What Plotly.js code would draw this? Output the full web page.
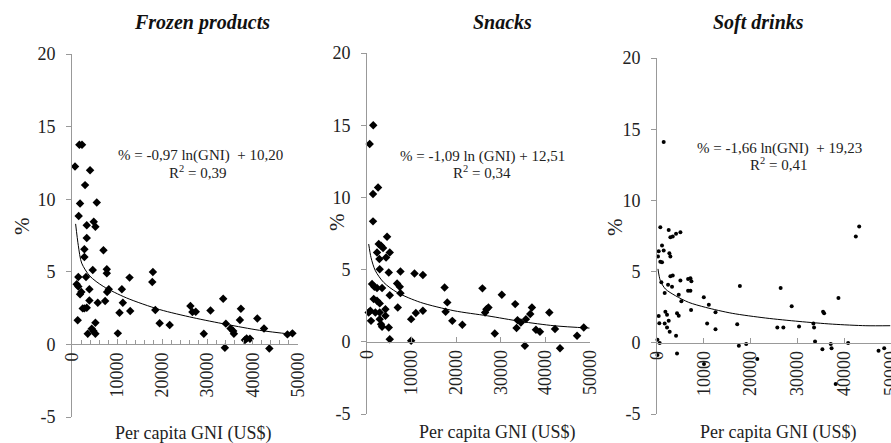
<!DOCTYPE html>
<html>
<head>
<meta charset="utf-8">
<script src="https://cdn.plot.ly/plotly-3.0.1.min.js"></script>
<style>html,body{margin:0;padding:0;background:#fff;}#chart{width:891px;height:443px;}</style>
</head>
<body>
<div id="chart"></div>
<script>
// ---------- data ----------
const panelTitles = ["Frozen products", "Snacks", "Soft drinks"];
const equations = ["% = -0,97 ln(GNI)  + 10,20", "% = -1,09 ln (GNI) + 12,51", "% = -1,66 ln(GNI)  + 19,23"];
const rSquared = ["R<sup>2</sup> = 0,39", "R<sup>2</sup> = 0,34", "R<sup>2</sup> = 0,41"];
const xTitle = "Per capita GNI (US$)";
const yTitle = "%";
const xTickVals = [0, 10000, 20000, 30000, 40000, 50000];
const yTickVals = [-5, 0, 5, 10, 15, 20];

const frozenX = [670,1630,2220,4000,2890,1780,5480,1480,4810,5180,3260,3260,2740,2740,6960,4590,7700,7700,17900,17760,12730,1400,3100,1040,1400,2070,3850,7770,8140,11030,1780,3850,5700,7330,11250,2370,2740,3260,10510,12880,18430,26200,26640,27380,30640,33450,37370,37150,41000,1260,5180,19390,21610,34040,35080,35670,35820,42480,4370,4740,5180,3480,10140,29160,38260,38630,39370,47660,48770,33820,43660];
const frozenY = [12.25,13.75,13.75,12.0,10.97,9.7,9.77,8.85,8.44,8.1,8.2,7.33,6.55,6.02,6.48,5.13,5.17,4.9,4.99,4.30,4.6,4.64,4.64,4.14,3.98,3.61,3.8,3.61,3.8,3.8,3.45,3.03,2.87,2.99,2.87,2.48,2.48,2.53,2.18,2.30,2.37,2.64,2.23,2.25,2.34,3.15,2.46,1.68,1.79,1.66,1.49,1.45,1.33,1.43,1.10,0.92,0.74,1.10,1.08,0.92,0.74,0.74,0.76,0.74,0.30,0.41,0.39,0.69,0.76,-0.23,-0.28];
const frozenTrendX = [800,1400,2140,3970,6900,12070,19400,26800,34150,41500,48850];
const frozenTrendY = [8.3,6.8,5.6,4.7,4.0,3.2,2.4,1.84,1.38,0.97,0.69];

const snacksX = [600,1400,1350,2480,1350,4500,2630,3150,3600,2250,5100,2780,4280,2850,4880,7500,10650,12530,1130,1650,2250,3380,6750,7350,7500,17400,25880,30230,5100,1500,2250,2850,750,380,1880,2850,4130,6900,18000,17630,26780,27230,26480,33230,36980,36600,40880,10950,12530,900,2850,4130,9900,19130,33750,34500,35630,3150,3380,4880,21380,33530,37880,38780,42150,48600,28650,47100,5100,9900,35400,43280];
const snacksY = [13.7,15.0,10.23,10.69,8.34,7.27,6.77,6.65,6.49,6.19,6.19,5.73,5.84,5.03,4.8,4.87,4.73,4.62,4.0,3.81,3.72,3.72,4.04,3.81,3.37,3.76,3.70,3.26,3.23,2.96,2.84,2.66,2.15,2.03,2.03,2.03,2.26,2.38,2.73,2.08,2.26,2.38,2.03,2.61,2.38,1.92,2.03,1.99,2.15,1.45,1.57,1.80,1.57,1.45,1.50,1.34,1.57,1.22,1.04,0.99,1.18,0.95,0.83,0.69,0.88,0.99,0.58,0.42,0.18,0.07,-0.28,-0.44];
const snacksTrendX = [380,900,1880,3750,6750,12000,19500,27000,34500,42000,49880];
const snacksTrendY = [6.77,5.84,4.92,4.11,3.42,2.73,2.15,1.80,1.41,1.11,0.95];

const drinksX = [1430,710,2500,3360,2860,4070,5000,1070,360,1430,210,2640,2860,710,1070,2860,3360,5000,6640,7140,7350,930,2360,3210,17710,26420,6640,7140,1640,4640,10000,38770,5210,11070,28780,7280,12500,1790,2140,360,4280,4640,35490,35710,2500,1640,500,10710,17140,33420,33560,2140,25710,27000,30350,12500,2710,4070,100,570,33770,40840,17490,19060,35340,37130,37300,4280,100,42480,43200,47340,48550,10040,21430,38180];
const drinksY = [14.1,8.12,7.93,7.46,7.42,7.65,7.77,6.83,6.43,6.48,6.06,6.29,6.06,5.70,5.66,4.67,4.72,4.37,4.48,4.53,4.32,4.25,4.08,3.94,3.99,3.85,3.66,3.66,3.50,3.38,3.19,3.15,2.91,2.68,2.56,2.30,2.14,2.18,1.97,1.88,2.07,1.90,2.18,2.07,1.55,1.36,1.38,1.36,1.31,1.36,1.08,1.08,1.08,1.08,1.15,0.96,0.77,0.49,0.21,-0.02,0.09,-0.02,-0.21,-0.09,-0.45,-0.09,-0.38,-0.75,-0.85,7.46,8.17,-0.56,-0.38,-1.49,-1.14,-2.89];
const drinksTrendX = [210,710,1790,3930,6780,10350,16070,23210,30350,37490,44630,49840];
const drinksTrendY = [5.19,4.37,3.78,3.31,2.84,2.49,2.07,1.74,1.50,1.31,1.20,1.20];

// ---------- layout geometry ----------
const W = 891, H = 443;
const serif = "Liberation Serif";
const xDomains = [[72/W, 298/W], [367/W, 590/W], [657/W, 1.0]];
const yDomains = [[1-417/H, 1-54/H], [1-414/H, 1-53/H], [1-414/H, 1-58/H]];
const yRange = [-5, 20];

const panels = [
  {x: frozenX, y: frozenY, tx: frozenTrendX, ty: frozenTrendY, sym: "diamond", size: 6.5},
  {x: snacksX, y: snacksY, tx: snacksTrendX, ty: snacksTrendY, sym: "diamond", size: 6.5},
  {x: drinksX, y: drinksY, tx: drinksTrendX, ty: drinksTrendY, sym: "circle", size: 4}
];

const traces = [];
const layout = {
  width: W, height: H,
  margin: {l: 0, r: 0, t: 0, b: 0, pad: 0},
  paper_bgcolor: "#fff", plot_bgcolor: "rgba(0,0,0,0)",
  showlegend: false,
  font: {family: serif, color: "#222"},
  annotations: []
};

panels.forEach((p, i) => {
  const n = i + 1;
  const xa = "x" + (n === 1 ? "" : n), ya = "y" + (n === 1 ? "" : n);
  traces.push({type: "scatter", mode: "markers", x: p.x, y: p.y, xaxis: xa, yaxis: ya,
    marker: {symbol: p.sym, size: p.size, color: "#000"}, cliponaxis: false, hoverinfo: "skip"});
  traces.push({type: "scatter", mode: "lines", x: p.tx, y: p.ty, xaxis: xa, yaxis: ya,
    line: {color: "#000", width: 1, shape: "spline", smoothing: 0.8}, hoverinfo: "skip"});

  const yd = yDomains[i];
  const zeroPos = yd[0] + (yd[1] - yd[0]) * (0 - yRange[0]) / (yRange[1] - yRange[0]);
  const xaxis = {
    domain: xDomains[i], range: [0, 50000], anchor: "free", position: zeroPos,
    showgrid: false, zeroline: false, showline: true, linecolor: "#999", linewidth: 1,
    tickmode: "array", tickvals: xTickVals, ticktext: xTickVals.map(String),
    ticks: "inside", ticklen: 5, tickcolor: "#999", tickangle: -90,
    ticklabeloverflow: "allow",
    tickfont: {family: serif, size: 18, color: "#222"}
  };
  if (i === 0) xaxis.minor = {dtick: 2000, tick0: 0, ticks: "inside", ticklen: 4, tickcolor: "#999"};
  const yaxis = {
    domain: yd, range: yRange, anchor: xa,
    showgrid: false, zeroline: false, showline: true, linecolor: "#999", linewidth: 1,
    tickmode: "array", tickvals: yTickVals, ticktext: yTickVals.map(String),
    ticks: "outside", ticklen: 5, tickcolor: "#999", ticklabelstandoff: 7,
    tickfont: {family: serif, size: 18, color: "#222"}
  };
  layout["xaxis" + (n === 1 ? "" : n)] = xaxis;
  layout["yaxis" + (n === 1 ? "" : n)] = yaxis;
});

// text positions in pixels
const titlePos = [[202, 22], [502, 22], [758, 22]];
const yTitlePos = [[22, 226], [337, 222], [615, 227]];
const xTitlePos = [[193, 433], [497, 432], [778, 432]];
const eqPos = [[200, 155], [482, 156], [779, 148]];
const r2Pos = [[197, 172], [482, 172], [778, 164]];
const px = (x) => x / W, py = (y) => 1 - y / H;

for (let i = 0; i < 3; i++) {
  layout.annotations.push({xref: "paper", yref: "paper", x: px(titlePos[i][0]), y: py(titlePos[i][1]),
    text: "<b><i>" + panelTitles[i] + "</i></b>", showarrow: false, xanchor: "center", yanchor: "middle",
    font: {family: serif, size: 20, color: "#111"}});
  layout.annotations.push({xref: "paper", yref: "paper", x: px(yTitlePos[i][0]), y: py(yTitlePos[i][1]),
    text: yTitle, textangle: -90, showarrow: false, xanchor: "center", yanchor: "middle",
    font: {family: serif, size: 21, color: "#222"}});
  layout.annotations.push({xref: "paper", yref: "paper", x: px(xTitlePos[i][0]), y: py(xTitlePos[i][1]),
    text: xTitle, showarrow: false, xanchor: "center", yanchor: "middle",
    font: {family: serif, size: 18, color: "#222"}});
  layout.annotations.push({xref: "paper", yref: "paper", x: px(eqPos[i][0]), y: py(eqPos[i][1]),
    text: equations[i], showarrow: false, xanchor: "center", yanchor: "middle",
    font: {family: serif, size: 15, color: "#222"}});
  layout.annotations.push({xref: "paper", yref: "paper", x: px(r2Pos[i][0]), y: py(r2Pos[i][1]),
    text: rSquared[i], showarrow: false, xanchor: "center", yanchor: "middle",
    font: {family: serif, size: 15, color: "#222"}});
}

Plotly.newPlot("chart", traces, layout, {staticPlot: true, displayModeBar: false});
</script>
</body>
</html>
